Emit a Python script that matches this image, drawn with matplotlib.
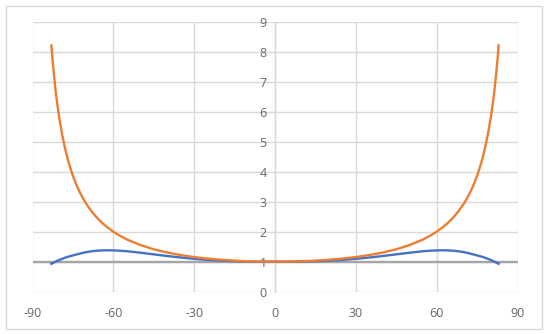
import matplotlib
matplotlib.use("Agg")
import matplotlib.pyplot as plt
from matplotlib.patches import Rectangle

# Data (degrees)
x_pos = [0, 5, 10, 15, 20, 25, 30, 35, 40, 45, 50, 55, 58, 60, 62, 64, 66, 68, 70, 71, 72, 73, 74,
         75, 76, 77, 78, 79, 80, 80.5, 81, 81.5, 82, 82.5, 83]
orange_pos = [1.0, 1.004, 1.015, 1.035, 1.064, 1.103, 1.155, 1.221, 1.305, 1.414, 1.556, 1.743,
              1.887, 2.0, 2.13, 2.281, 2.459, 2.669, 2.924, 3.072, 3.236, 3.42, 3.628,
              3.864, 4.134, 4.445, 4.81, 5.24, 5.76, 6.06, 6.39, 6.76, 7.19, 7.66, 8.21]
blue_pos = [1.0, 1.0, 1.005, 1.015, 1.035, 1.06, 1.095, 1.14, 1.19, 1.245, 1.30, 1.35,
            1.368, 1.376, 1.38, 1.377, 1.367, 1.348, 1.32, 1.3, 1.28, 1.255, 1.235,
            1.21, 1.185, 1.16, 1.13, 1.095, 1.06, 1.04, 1.02, 0.998, 0.975, 0.953, 0.93]
gray_x = [-90, 90]
gray_y = [1, 1]

x_ticks = [-90, -60, -30, 0, 30, 60, 90]
y_ticks = [0, 1, 2, 3, 4, 5, 6, 7, 8, 9]

x_all = [-v for v in x_pos[::-1]] + x_pos[1:]
orange = orange_pos[::-1] + orange_pos[1:]
blue = blue_pos[::-1] + blue_pos[1:]

plt.rcParams['font.family'] = ['Open Sans', 'DejaVu Sans']
plt.rcParams['axes.unicode_minus'] = False

W, H = 550, 334
fig = plt.figure(figsize=(W / 100, H / 100), dpi=100)
fig.patch.set_facecolor('white')
fig.patches.append(Rectangle((5.5 / W, 5.5 / H), (541.5 - 5.5) / W, (328.5 - 5.5) / H,
                             transform=fig.transFigure, fill=False,
                             edgecolor='#d9d9d9', linewidth=1.0))

left, right = 32.5 / W, 517.5 / W
bottom, top = (H - 291.7) / H, (H - 21.7) / H
ax = fig.add_axes([left, bottom, right - left, top - bottom])

ax.set_xlim(-90, 90)
ax.set_ylim(0, 9)
ax.set_xticks(x_ticks)
ax.set_yticks(y_ticks)
ax.grid(True, color='#d9d9d9', linewidth=1.0)
ax.set_axisbelow(True)

for s in ['top', 'right', 'bottom']:
    ax.spines[s].set_visible(False)
ax.spines['left'].set_position(('data', 0))
ax.spines['left'].set_color('#d9d9d9')
ax.spines['left'].set_linewidth(1.0)

ax.tick_params(axis='both', length=0, labelsize=9, colors='#666666')
ax.tick_params(axis='x', pad=11)
ax.tick_params(axis='y', pad=6)

ax.plot(gray_x, gray_y, color='#a5a5a5', linewidth=1.7, solid_capstyle='butt', zorder=3)
ax.plot(x_all, blue, color='#4472c4', linewidth=1.7, zorder=4)
ax.plot(x_all, orange, color='#ed7d31', linewidth=1.7, zorder=5)

fig.savefig('out.png', dpi=100)
